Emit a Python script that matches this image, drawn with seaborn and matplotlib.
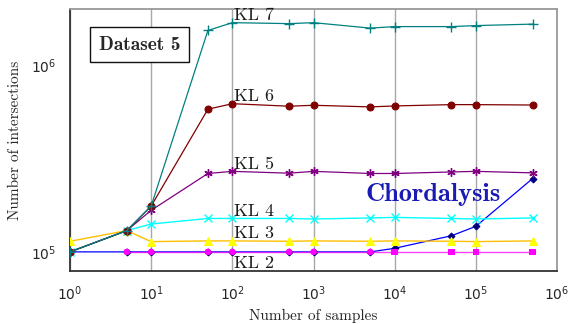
import matplotlib
matplotlib.use("Agg")
import pandas as pd
import seaborn as sns
import matplotlib.pyplot as plt
from matplotlib.ticker import LogLocator, NullFormatter

samples = [1, 5, 10, 50, 100, 500, 1000, 5000, 10000, 50000, 100000, 500000]

kl7 = [1.0e5, 1.30e5, 1.76e5, 1.535e6, 1.69e6, 1.67e6, 1.69e6, 1.58e6, 1.61e6, 1.61e6, 1.63e6, 1.66e6]
kl6 = [1.0e5, 1.30e5, 1.76e5, 5.81e5, 6.22e5, 6.03e5, 6.10e5, 5.98e5, 6.05e5, 6.15e5, 6.15e5, 6.12e5]
kl5 = [1.0e5, 1.30e5, 1.67e5, 2.63e5, 2.70e5, 2.64e5, 2.70e5, 2.63e5, 2.63e5, 2.68e5, 2.70e5, 2.65e5]
kl4 = [1.0e5, 1.30e5, 1.41e5, 1.51e5, 1.51e5, 1.51e5, 1.50e5, 1.52e5, 1.53e5, 1.51e5, 1.50e5, 1.52e5]
kl3 = [1.14e5, 1.30e5, 1.135e5, 1.145e5, 1.145e5, 1.14e5, 1.145e5, 1.14e5, 1.145e5, 1.14e5, 1.135e5, 1.145e5]
kl2_x = [5, 10, 50, 100, 500, 1000, 5000, 10000, 50000, 100000, 500000]
kl2 = [1.0e5, 1.0e5, 1.0e5, 1.0e5, 1.0e5, 1.0e5, 1.0e5, 1.0e5, 1.0e5, 1.0e5, 1.0e5]
chordalysis = [1.0e5, 1.0e5, 1.0e5, 1.0e5, 1.0e5, 1.0e5, 1.0e5, 1.0e5, 1.045e5, 1.22e5, 1.37e5, 2.47e5]

sns.set_style("white")

fig = plt.figure(figsize=(5.71, 3.24), dpi=100)
ax = fig.add_axes([0.1226, 0.1636, 0.8529, 0.8086])

# Chordalysis first, KL 2 overlaps it on the bottom line
sns.lineplot(x=samples, y=chordalysis, ax=ax, color="#0000ff", lw=0.9,
             marker="D", markersize=3.5, markerfacecolor="#000080",
             markeredgecolor="#000080", zorder=3)

kl2_df = pd.DataFrame({"x": kl2_x, "y": kl2})
kl2_df["m"] = ["o" if v <= 5000 else "s" for v in kl2_x]
sns.lineplot(data=kl2_df, x="x", y="y", ax=ax, color="#ff00ff", lw=1.0, alpha=0.75, zorder=4)
sns.scatterplot(data=kl2_df, x="x", y="y", style="m", markers={"o": "o", "s": "s"},
                ax=ax, color="#ff00ff", s=22, linewidth=0, legend=False, zorder=5)

sns.lineplot(x=samples, y=kl3, ax=ax, color="#ffbf00", lw=1.0, marker="^",
             markersize=6, markerfacecolor="#ffff00", markeredgecolor="#ffff00", zorder=4)
sns.lineplot(x=samples, y=kl4, ax=ax, color="#00ffff", lw=1.0, marker="x",
             markersize=6, markeredgewidth=1.0, markeredgecolor="#00ffff", zorder=4)
sns.lineplot(x=samples, y=kl5, ax=ax, color="#800080", lw=0.9, marker=(6, 2, 0),
             markersize=6, markeredgewidth=1.0, markeredgecolor="#800080", zorder=4)
sns.lineplot(x=samples, y=kl6, ax=ax, color="#800000", lw=0.9, marker="o",
             markersize=5, markerfacecolor="#800000", markeredgecolor="#800000", zorder=4)
sns.lineplot(x=samples, y=kl7, ax=ax, color="#008080", lw=0.9, marker="+",
             markersize=7, markeredgewidth=1.0, markeredgecolor="#008080", zorder=4)

ax.set_xscale("log")
ax.set_yscale("log")
ax.set_xlim(1, 1e6)
ax.set_ylim(7.9e4, 2.0e6)

ax.xaxis.set_major_locator(LogLocator(base=10, numticks=10))
ax.xaxis.set_minor_locator(LogLocator(base=10, subs=[], numticks=10))
ax.yaxis.set_major_locator(LogLocator(base=10, numticks=10))
ax.yaxis.set_minor_locator(LogLocator(base=10, subs=range(2, 10), numticks=10))
ax.yaxis.set_minor_formatter(NullFormatter())

ax.grid(axis="x", which="major", color="#a8a8a8", lw=1.0, zorder=0)
ax.set_axisbelow(True)

ax.tick_params(axis="both", which="major", direction="out", length=6, width=1,
               color="#333333", labelsize=10, pad=4)
ax.tick_params(axis="y", which="minor", direction="out", length=4, width=1, color="#333333")
ax.tick_params(top=False, right=False)

for side in ["left", "bottom"]:
    ax.spines[side].set_color("#333333")
    ax.spines[side].set_linewidth(1.3)
for side in ["top", "right"]:
    ax.spines[side].set_color("#999999")
    ax.spines[side].set_linewidth(1.3)

ax.set_xlabel("Number of samples", fontfamily="cmr10", fontsize=11, labelpad=4)
ax.set_ylabel("Number of intersections", fontfamily="cmr10", fontsize=11, labelpad=6)

label_font = dict(fontfamily="cmr10", fontsize=13, color="#1a1a1a")
for txt, val in [("KL 7", kl7[4]), ("KL 6", kl6[4]), ("KL 5", kl5[4]),
                 ("KL 4", kl4[4]), ("KL 3", kl3[4])]:
    ax.annotate(txt, xy=(100, val), xytext=(1, 2), textcoords="offset points",
                ha="left", va="baseline", zorder=6, **label_font)
ax.annotate("KL 2", xy=(100, kl2[3]), xytext=(1, -3), textcoords="offset points",
            ha="left", va="top", zorder=6, **label_font)

ax.text(4.4e3, 1.87e5, "Chordalysis", fontfamily="cmb10", fontsize=19,
        color="#1a1ab4", ha="left", va="baseline", zorder=6)

ax.text(0.1427, 0.8645, "Dataset 5", transform=ax.transAxes, fontfamily="cmb10",
        fontsize=14, ha="center", va="center", zorder=6,
        bbox=dict(boxstyle="square,pad=0.45", fc="white", ec="#111111", lw=1.0))

fig.savefig("out.png", dpi=100)
